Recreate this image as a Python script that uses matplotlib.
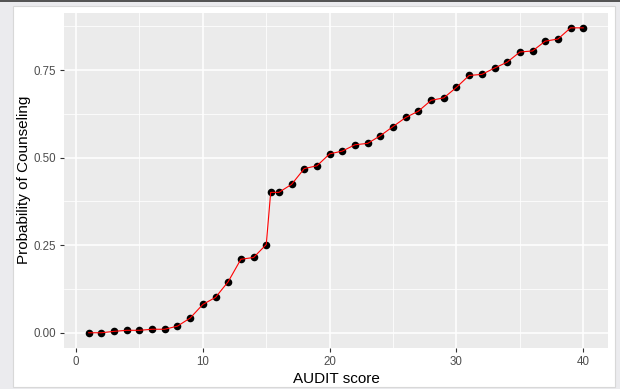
import matplotlib
matplotlib.use("Agg")
import matplotlib.pyplot as plt
from matplotlib.patches import Rectangle
from matplotlib.ticker import MultipleLocator

audit_score = [1, 2, 3, 4, 5, 6, 7, 8, 9, 10, 11, 12, 13, 14, 15, 15.35,
               16, 17, 18, 19, 20, 21, 22, 23, 24, 25, 26, 27, 28, 29, 30,
               31, 32, 33, 34, 35, 36, 37, 38, 39, 40]
probability = [0.000, 0.000, 0.004, 0.007, 0.007, 0.010, 0.010, 0.019, 0.042,
               0.081, 0.101, 0.146, 0.210, 0.215, 0.252, 0.401,
               0.401, 0.424, 0.469, 0.477, 0.511, 0.519, 0.537, 0.541, 0.563,
               0.589, 0.615, 0.633, 0.664, 0.671, 0.701,
               0.735, 0.738, 0.756, 0.773, 0.802, 0.805, 0.833, 0.839, 0.871, 0.871]
x_ticks = [0, 10, 20, 30, 40]
y_ticks = [0.00, 0.25, 0.50, 0.75]
y_tick_labels = ["0.00", "0.25", "0.50", "0.75"]
x_label = "AUDIT score"
y_label = "Probability of Counseling"

plt.rcParams['font.family'] = ['Liberation Sans', 'DejaVu Sans']

W, H = 620, 389
fig = plt.figure(figsize=(W / 100, H / 100), dpi=100, facecolor="#ebebee")
# white card of the screenshot
fig.patches.append(Rectangle((12.5 / W, 2.5 / H), 602 / W, 381 / H, transform=fig.transFigure,
                             facecolor="white", edgecolor="#d8d8d8", linewidth=0.8, zorder=-10))
fig.patches.append(Rectangle((0, (H - 1.5) / H), 1, 1.5 / H, transform=fig.transFigure,
                             facecolor="#555555", edgecolor="none", zorder=-10))

left, right = 64 / W, 608 / W
top, bottom = (H - 12.6) / H, (H - 348) / H
ax = fig.add_axes([left, bottom, right - left, top - bottom])
ax.set_facecolor("#EBEBEB")
for s in ax.spines.values():
    s.set_visible(False)

xmin, xmax = min(audit_score), max(audit_score)
ymin, ymax = min(probability), max(probability)
xr, yr = xmax - xmin, ymax - ymin
ax.set_xlim(xmin - 0.05 * xr, xmax + 0.05 * xr)
ax.set_ylim(ymin - 0.05 * yr, ymax + 0.05 * yr)

ax.set_xticks(x_ticks)
ax.set_yticks(y_ticks)
ax.set_yticklabels(y_tick_labels)
ax.xaxis.set_minor_locator(MultipleLocator(5))
ax.yaxis.set_minor_locator(MultipleLocator(0.125))
ax.grid(which="major", color="white", linewidth=1.1)
ax.grid(which="minor", color="white", linewidth=0.55)
ax.set_axisbelow(True)
ax.tick_params(which="major", length=3, width=0.8, color="#333333",
               labelcolor="#4D4D4D", labelsize=8.3, pad=2.5)
ax.tick_params(which="minor", length=0)

ax.scatter(audit_score, probability, s=30, color="black", zorder=3, linewidths=0)
ax.plot(audit_score, probability, color="red", linewidth=0.8, zorder=4)

ax.set_xlabel(x_label, fontsize=11, color="black", labelpad=3)
ax.set_ylabel(y_label, fontsize=11, color="black", labelpad=2)

fig.savefig("out.png", dpi=100, facecolor=fig.get_facecolor())
